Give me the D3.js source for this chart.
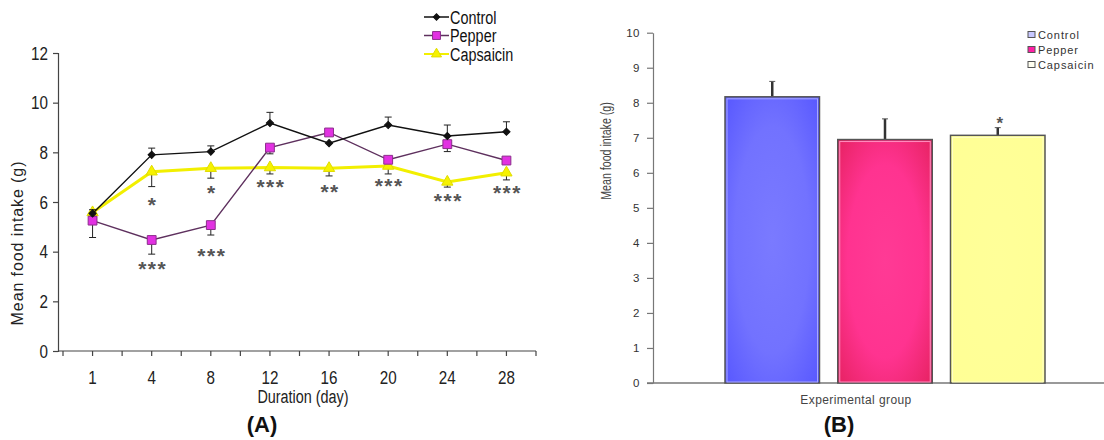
<!DOCTYPE html>
<html>
<head>
<meta charset="utf-8">
<script src="https://cdn.jsdelivr.net/npm/d3@7"></script>
<style>
body { margin: 0; background: #fff; }
svg { display: block; }
</style>
</head>
<body>
<svg id="chart" width="1104" height="440"></svg>
<script>
// ---- panel A data ----
const days = ['1', '4', '8', '12', '16', '20', '24', '28']
const controlMeans = [5.54, 7.9, 8.03, 9.18, 8.37, 9.1, 8.66, 8.83]
const controlErr = [0.15, 0.27, 0.23, 0.43, 0.0, 0.32, 0.44, 0.4]
const pepperMeans = [5.25, 4.47, 5.07, 8.19, 8.8, 7.7, 8.33, 7.67]
const pepperErr = [0.68, 0.57, 0.4, 0.25, 0.0, 0.0, 0.3, 0.0]
const capsMeans = [5.58, 7.22, 7.36, 7.39, 7.36, 7.45, 6.81, 7.18]
const capsErr = [0.16, 0.6, 0.4, 0.26, 0.31, 0.32, 0.21, 0.29]
const yTicksA = [0, 2, 4, 6, 8, 10, 12]

// significance marks (day, label, value at centre of mark)
const starDays = ['4', '4', '8', '8', '12', '16', '20', '24', '28']
const starLabels = ['*', '***', '*', '***', '***', '**', '***', '***', '***']
const starValues = [6.1, 3.52, 6.55, 4.04, 6.8, 6.62, 6.84, 6.25, 6.55]

// ---- panel B data ----
const groups = ['Control', 'Pepper', 'Capsaicin']
const groupMeans = [8.17, 6.95, 7.07]
const groupErr = [0.44, 0.59, 0.22]
const groupStars = ['', '', '*']
const yTicksB = [0, 1, 2, 3, 4, 5, 6, 7, 8, 9, 10]

const svg = d3.select('#chart')
const sans = '"Liberation Sans", Arial, sans-serif'

// squeeze text horizontally to mimic a narrow face
const condense = (sel, k) => {
	sel.each(function() {
		const w = this.getComputedTextLength()
		d3.select(this)
			.attr('textLength', w * k)
			.attr('lengthAdjust', 'spacingAndGlyphs')
	})
}

// ================= panel A =================
const a = { left: 58, right: 536, top: 53, bottom: 351, bandLeft: 63 }

const xA = d3.scaleBand()
	.domain(days)
	.range([a.bandLeft, a.right])
	.paddingInner(0)
	.paddingOuter(0)
const cx = d => xA(d) + xA.bandwidth() / 2

const yA = d3.scaleLinear()
	.domain([0, 12])
	.range([a.bottom, a.top])

const gA = svg.append('g').attr('class', 'panel-a')

const yAxisA = gA.append('g')
	.attr('transform', 'translate(' + a.left + ',0)')
	.call(d3.axisLeft(yA).tickValues(yTicksA).tickSize(5).tickPadding(5))
yAxisA.selectAll('path, line').attr('stroke', '#444').attr('stroke-width', 1.2)
yAxisA.selectAll('text')
	.attr('font-family', sans)
	.attr('font-size', 19)
	.attr('fill', '#222')
	.call(condense, 0.8)

const xAxisA = gA.append('g')
	.attr('transform', 'translate(0,' + a.bottom + ')')
	.call(d3.axisBottom(xA).tickSize(5).tickSizeOuter(0))
xAxisA.select('.domain').remove()
xAxisA.selectAll('line').attr('stroke', '#444').attr('stroke-width', 1.2)
xAxisA.selectAll('text')
	.attr('y', 20)
	.attr('font-family', sans)
	.attr('font-size', 19)
	.attr('fill', '#222')
	.call(condense, 0.8)

// band edge ticks and axis line
gA.append('line')
	.attr('x1', a.left).attr('x2', a.right)
	.attr('y1', a.bottom).attr('y2', a.bottom)
	.attr('stroke', '#444').attr('stroke-width', 1.2)
gA.selectAll('.edge-tick')
	.data(days.map(d => xA(d)).concat([a.right]))
	.enter()
	.append('line')
	.attr('class', 'edge-tick')
	.attr('x1', d => d).attr('x2', d => d)
	.attr('y1', a.bottom).attr('y2', a.bottom + 5)
	.attr('stroke', '#444').attr('stroke-width', 1.2)

gA.append('text')
	.attr('x', 303).attr('y', 403)
	.attr('text-anchor', 'middle')
	.attr('font-family', sans)
	.attr('font-size', 18)
	.attr('fill', '#222')
	.text('Duration (day)')
	.call(condense, 0.8)

gA.append('text')
	.attr('transform', 'translate(23,243) rotate(-90)')
	.attr('text-anchor', 'middle')
	.attr('font-family', sans)
	.attr('font-size', 16)
	.attr('letter-spacing', 0.9)
	.attr('fill', '#222')
	.text('Mean food intake (g)')

const seriesA = [
	{ name: 'Capsaicin', means: capsMeans, err: capsErr, dir: 1, color: '#f2ef00', width: 3, symbol: d3.symbolTriangle, size: 55, fill: '#f6f200', stroke: '#e0dc00', rot: 0 },
	{ name: 'Pepper', means: pepperMeans, err: pepperErr, dir: 1, color: '#5e305e', width: 1.4, symbol: d3.symbolSquare, size: 78, fill: '#e231e2', stroke: '#8c2f8c', rot: 0 },
	{ name: 'Control', means: controlMeans, err: controlErr, dir: -1, color: '#111', width: 1.4, symbol: d3.symbolSquare, size: 26, fill: '#111', stroke: '#111', rot: 45 }
]

const lineA = d3.line()
	.x(d => cx(d.day))
	.y(d => yA(d.v))

seriesA.forEach(s => {
	const pts = days.map((d, i) => ({ day: d, v: s.means[i], e: s.err[i] }))
	const g = gA.append('g').attr('class', 'series')

	// error bars (control up, others down)
	const eb = g.selectAll('.err')
		.data(pts.filter(p => p.e > 0))
		.enter()
		.append('g')
		.attr('class', 'err')
	eb.append('line')
		.attr('x1', p => cx(p.day)).attr('x2', p => cx(p.day))
		.attr('y1', p => yA(p.v)).attr('y2', p => yA(p.v - s.dir * p.e))
		.attr('stroke', '#222').attr('stroke-width', 1)
	eb.append('line')
		.attr('x1', p => cx(p.day) - 3.5).attr('x2', p => cx(p.day) + 3.5)
		.attr('y1', p => yA(p.v - s.dir * p.e)).attr('y2', p => yA(p.v - s.dir * p.e))
		.attr('stroke', '#222').attr('stroke-width', 1)

	g.append('path')
		.datum(pts)
		.attr('d', lineA)
		.attr('fill', 'none')
		.attr('stroke', s.color)
		.attr('stroke-width', s.width)

	g.selectAll('.mark')
		.data(pts)
		.enter()
		.append('path')
		.attr('class', 'mark')
		.attr('transform', p => 'translate(' + cx(p.day) + ',' + yA(p.v) + ') rotate(' + s.rot + ')')
		.attr('d', d3.symbol().type(s.symbol).size(s.size))
		.attr('fill', s.fill)
		.attr('stroke', s.stroke)
		.attr('stroke-width', 1)
})

gA.selectAll('.star')
	.data(starDays.map((d, i) => ({ day: d, label: starLabels[i], v: starValues[i] })))
	.enter()
	.append('text')
	.attr('class', 'star')
	.attr('x', d => cx(d.day) + 1)
	.attr('y', d => yA(d.v) + 12)
	.attr('text-anchor', 'middle')
	.attr('font-family', sans)
	.attr('font-size', 21)
	.attr('font-weight', 'bold')
	.attr('letter-spacing', 1.5)
	.attr('fill', '#555')
	.text(d => d.label)

// legend A
const legA = gA.append('g').attr('class', 'legend-a')
const legOrder = ['Control', 'Pepper', 'Capsaicin']
legOrder.forEach((name, i) => {
	const s = seriesA.find(t => t.name === name)
	const ly = 17 + i * 18.5
	legA.append('line')
		.attr('x1', 424).attr('x2', 449)
		.attr('y1', ly).attr('y2', ly)
		.attr('stroke', s.color).attr('stroke-width', s.width === 3 ? 2 : 1.5)
	legA.append('path')
		.attr('transform', 'translate(436.5,' + ly + ') rotate(' + s.rot + ')')
		.attr('d', d3.symbol().type(s.symbol).size(s.size * 0.8))
		.attr('fill', s.fill)
		.attr('stroke', s.stroke)
	legA.append('text')
		.attr('x', 450).attr('y', ly + 6.5)
		.attr('font-family', sans)
		.attr('font-size', 18)
		.attr('fill', '#111')
		.text(name)
		.call(condense, 0.8)
})

svg.append('text')
	.attr('x', 262).attr('y', 432)
	.attr('text-anchor', 'middle')
	.attr('font-family', sans)
	.attr('font-weight', 'bold')
	.attr('font-size', 22)
	.attr('fill', '#111')
	.text('(A)')

// ================= panel B =================
const b = { left: 653, right: 1104, top: 32.7, bottom: 383 }

const defs = svg.append('defs')
const grads = [
	{ id: 'g-control', stops: [['0%', '#7a7aff'], ['55%', '#7272ff'], ['100%', '#5656ff']] },
	{ id: 'g-pepper', stops: [['0%', '#ff3a95'], ['55%', '#ff3390'], ['100%', '#e5215f']] },
	{ id: 'g-caps', stops: [['0%', '#ffff99'], ['100%', '#ffff95']] }
]
grads.forEach(gr => {
	const rg = defs.append('radialGradient')
		.attr('id', gr.id)
		.attr('cx', '50%').attr('cy', '50%').attr('r', '72%')
	gr.stops.forEach(st => rg.append('stop').attr('offset', st[0]).attr('stop-color', st[1]))
})
const barFills = ['url(#g-control)', 'url(#g-pepper)', 'url(#g-caps)']
const innerStroke = ['#a8a8ff', '#ff8fbf', '#ffffc8']
const legendFills = ['#c8c8ff', '#ff1fa5', '#fffff0']

const xB = d3.scaleBand()
	.domain(groups)
	.range([725, 1045])
	.paddingInner(0.162)
	.paddingOuter(0)

const yB = d3.scaleLinear()
	.domain([0, 10])
	.range([b.bottom, b.top])

const gB = svg.append('g').attr('class', 'panel-b')

const yAxisB = gB.append('g')
	.attr('transform', 'translate(' + b.left + ',0)')
	.call(d3.axisLeft(yB).tickValues(yTicksB).tickSize(6).tickPadding(7).tickSizeOuter(0))
yAxisB.selectAll('path, line').attr('stroke', '#777').attr('stroke-width', 1.2)
yAxisB.selectAll('text')
	.attr('font-family', sans)
	.attr('font-size', 11.5)
	.attr('letter-spacing', 0.5)
	.attr('fill', '#333')

gB.append('line')
	.attr('x1', b.left - 6).attr('x2', b.right)
	.attr('y1', b.bottom).attr('y2', b.bottom)
	.attr('stroke', '#777').attr('stroke-width', 1.5)

const bars = gB.selectAll('.bar')
	.data(groups.map((g, i) => ({ g, v: groupMeans[i], e: groupErr[i], star: groupStars[i], i })))
	.enter()
	.append('g')
	.attr('class', 'bar')

// error bars first so bar top covers the base
bars.append('line')
	.attr('x1', d => xB(d.g) + xB.bandwidth() / 2).attr('x2', d => xB(d.g) + xB.bandwidth() / 2)
	.attr('y1', d => yB(d.v)).attr('y2', d => yB(d.v + d.e))
	.attr('stroke', '#333').attr('stroke-width', 2.5)
bars.append('line')
	.attr('x1', d => xB(d.g) + xB.bandwidth() / 2 - 3).attr('x2', d => xB(d.g) + xB.bandwidth() / 2 + 3)
	.attr('y1', d => yB(d.v + d.e)).attr('y2', d => yB(d.v + d.e))
	.attr('stroke', '#555').attr('stroke-width', 1)

bars.append('rect')
	.attr('x', d => xB(d.g))
	.attr('y', d => yB(d.v))
	.attr('width', xB.bandwidth())
	.attr('height', d => yB(0) - yB(d.v))
	.attr('fill', d => barFills[d.i])
	.attr('stroke', '#555')
	.attr('stroke-width', 1.5)
bars.append('rect')
	.attr('x', d => xB(d.g) + 2)
	.attr('y', d => yB(d.v) + 2)
	.attr('width', xB.bandwidth() - 4)
	.attr('height', d => yB(0) - yB(d.v) - 3)
	.attr('fill', 'none')
	.attr('stroke', d => innerStroke[d.i])
	.attr('stroke-width', 1)

bars.append('text')
	.attr('x', d => xB(d.g) + xB.bandwidth() / 2 + 2)
	.attr('y', d => yB(d.v + d.e) + 1)
	.attr('text-anchor', 'middle')
	.attr('font-family', sans)
	.attr('font-size', 17)
	.attr('font-weight', 'bold')
	.attr('fill', '#555')
	.text(d => d.star)

gB.append('text')
	.attr('x', 856).attr('y', 404)
	.attr('text-anchor', 'middle')
	.attr('font-family', sans)
	.attr('font-size', 12)
	.attr('letter-spacing', 0.4)
	.attr('fill', '#444')
	.text('Experimental group')

gB.append('text')
	.attr('transform', 'translate(611,151) rotate(-90)')
	.attr('text-anchor', 'middle')
	.attr('font-family', sans)
	.attr('font-size', 14)
	.attr('fill', '#444')
	.text('Mean food intake (g)')
	.call(condense, 0.76)

// legend B
const legB = gB.append('g').attr('class', 'legend-b')
groups.forEach((name, i) => {
	const ly = 35 + i * 15
	legB.append('rect')
		.attr('x', 1028).attr('y', ly - 3.5)
		.attr('width', 7).attr('height', 6)
		.attr('fill', legendFills[i])
		.attr('stroke', '#555').attr('stroke-width', 1)
	legB.append('text')
		.attr('x', 1038).attr('y', ly + 4)
		.attr('font-family', sans)
		.attr('font-size', 11)
		.attr('letter-spacing', 0.9)
		.attr('fill', '#333')
		.text(name)
})

svg.append('text')
	.attr('x', 839).attr('y', 432)
	.attr('text-anchor', 'middle')
	.attr('font-family', sans)
	.attr('font-weight', 'bold')
	.attr('font-size', 22)
	.attr('fill', '#111')
	.text('(B)')
</script>
</body>
</html>
